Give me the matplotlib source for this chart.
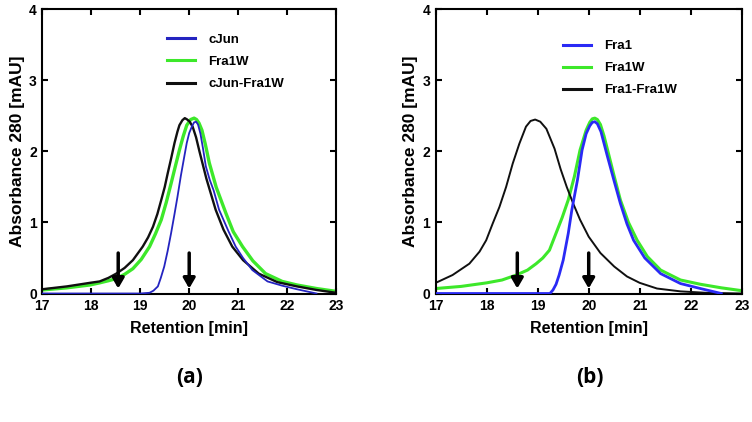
import numpy as np
import matplotlib.pyplot as plt

# ---- panel (a) data ----
cjun_t = [17, 18, 19, 19.19, 19.27, 19.36, 19.42, 19.49, 19.56, 19.63, 19.7, 19.76, 19.83, 19.9,
          19.95, 20.0, 20.06, 20.1, 20.14, 20.18, 20.23, 20.28, 20.34, 20.42, 20.5, 20.61, 20.8,
          20.95, 21.1, 21.29, 21.6, 21.9, 22.2, 22.6]
cjun_v = [0, 0, 0, 0.01, 0.04, 0.1, 0.22, 0.38, 0.6, 0.85, 1.12, 1.36, 1.66, 1.93,
          2.12, 2.26, 2.36, 2.41, 2.42, 2.38, 2.25, 2.05, 1.79, 1.6, 1.45, 1.18, 0.88,
          0.66, 0.5, 0.33, 0.17, 0.11, 0.06, 0.0]

fra1w_a_t = [17, 17.5, 17.97, 18.17, 18.35, 18.51, 18.68, 18.85, 19.02, 19.19, 19.31, 19.43,
             19.53, 19.63, 19.72, 19.8, 19.88, 19.95, 20.03, 20.1, 20.15, 20.2, 20.26, 20.33,
             20.41, 20.55, 20.75, 20.9, 21.09, 21.3, 21.56, 21.9, 22.2, 22.6, 23]
fra1w_a_v = [0.05, 0.08, 0.12, 0.15, 0.18, 0.21, 0.27, 0.35, 0.48, 0.66, 0.84, 1.04,
             1.28, 1.55, 1.8, 2.02, 2.22, 2.37, 2.45, 2.47, 2.45, 2.4, 2.3, 2.1,
             1.84, 1.5, 1.13, 0.87, 0.66, 0.46, 0.28, 0.17, 0.12, 0.07, 0.03]

mix_a_t = [17, 17.5, 17.97, 18.17, 18.35, 18.51, 18.68, 18.85, 19.05, 19.16, 19.26, 19.35,
           19.43, 19.5, 19.56, 19.63, 19.7, 19.76, 19.8, 19.86, 19.91, 19.96, 20.01, 20.07,
           20.14, 20.21, 20.35, 20.54, 20.7, 20.88, 21.1, 21.42, 21.8, 22.2, 22.6, 23]
mix_a_v = [0.06, 0.1, 0.15, 0.17, 0.22, 0.28, 0.36, 0.47, 0.66, 0.79, 0.94, 1.12,
           1.32, 1.5, 1.69, 1.9, 2.12, 2.28, 2.37, 2.44, 2.47, 2.45, 2.42, 2.35,
           2.2, 2.0, 1.62, 1.18, 0.9, 0.66, 0.47, 0.28, 0.16, 0.1, 0.05, 0.01]

# ---- panel (b) data ----
fra1_t = [17, 19.24, 19.3, 19.36, 19.42, 19.5, 19.6, 19.67, 19.78, 19.87, 19.95, 20.02, 20.07,
          20.12, 20.17, 20.24, 20.36, 20.5, 20.62, 20.75, 20.88, 21.1, 21.41, 21.8, 22.19, 22.6]
fra1_v = [0, 0, 0.05, 0.13, 0.26, 0.47, 0.85, 1.18, 1.6, 2.02, 2.25, 2.36, 2.41,
          2.42, 2.39, 2.28, 1.95, 1.58, 1.27, 0.98, 0.75, 0.5, 0.28, 0.14, 0.07, 0.0]

fra1w_b_t = [17, 17.5, 18.0, 18.3, 18.58, 18.8, 18.97, 19.1, 19.23, 19.36, 19.48, 19.6, 19.72, 19.83,
             19.95, 20.02, 20.07, 20.12, 20.17, 20.23, 20.3, 20.36, 20.5, 20.62, 20.78, 20.95,
             21.15, 21.41, 21.8, 22.19, 22.6, 23]
fra1w_b_v = [0.07, 0.1, 0.15, 0.19, 0.26, 0.33, 0.42, 0.5, 0.61, 0.85, 1.07, 1.32, 1.65, 2.02,
             2.3, 2.41, 2.46, 2.47, 2.45, 2.38, 2.22, 2.05, 1.65, 1.32, 1.0, 0.75,
             0.52, 0.33, 0.19, 0.13, 0.08, 0.04]

mix_b_t = [17, 17.33, 17.66, 17.86, 17.99, 18.12, 18.25, 18.38, 18.51, 18.64, 18.77, 18.86,
           18.95, 19.05, 19.17, 19.33, 19.45, 19.57, 19.7, 19.83, 20.0, 20.23, 20.5,
           20.75, 21.0, 21.34, 21.8, 22.3, 23]
mix_b_v = [0.15, 0.26, 0.42, 0.59, 0.75, 0.99, 1.22, 1.5, 1.83, 2.11, 2.35, 2.43,
           2.45, 2.42, 2.32, 2.04, 1.75, 1.5, 1.26, 1.04, 0.8, 0.57, 0.38,
           0.24, 0.15, 0.07, 0.03, 0.01, 0.0]

arrows_a = [18.55, 20.0]
arrows_b = [18.6, 20.0]
arrow_top, arrow_bot = 0.57, 0.07

plt.rcParams['font.family'] = ['Liberation Sans', 'DejaVu Sans']
plt.rcParams['font.weight'] = 'bold'

fig = plt.figure(figsize=(7.52, 4.22), dpi=100)
ax_a = fig.add_axes([0.0563, 0.3045, 0.3906, 0.673])
ax_b = fig.add_axes([0.5794, 0.3045, 0.4069, 0.673])

blue_a = '#2424c0'
blue_b = '#2a2af5'
green = '#3de82a'
black = '#101010'

ax_a.plot(cjun_t, cjun_v, color=blue_a, lw=1.3, label='cJun', zorder=3)
ax_a.plot(fra1w_a_t, fra1w_a_v, color=green, lw=2.4, label='Fra1W', zorder=2)
ax_a.plot(mix_a_t, mix_a_v, color=black, lw=1.7, label='cJun-Fra1W', zorder=2)

ax_b.plot(fra1_t, fra1_v, color=blue_b, lw=2.0, label='Fra1', zorder=3)
ax_b.plot(fra1w_b_t, fra1w_b_v, color=green, lw=2.2, label='Fra1W', zorder=2)
ax_b.plot(mix_b_t, mix_b_v, color=black, lw=1.4, label='Fra1-Fra1W', zorder=2)

for ax, arrs, leg_xy in [(ax_a, arrows_a, (0.425, 0.915)), (ax_b, arrows_b, (0.416, 0.893))]:
    for t in arrs:
        ax.annotate('', xy=(t, arrow_bot), xytext=(t, arrow_top),
                    arrowprops=dict(arrowstyle='-|>,head_length=0.6,head_width=0.35',
                                    lw=2.5, color='black', shrinkA=0, shrinkB=0),
                    zorder=5)
    ax.set_xlim(17, 23)
    ax.set_ylim(0, 4)
    ax.set_xticks(range(17, 24))
    ax.set_yticks(range(0, 5))
    ax.tick_params(direction='in', top=True, right=True, length=4, width=1.5,
                   labelsize=10, pad=4)
    for lab in ax.get_xticklabels() + ax.get_yticklabels():
        lab.set_fontweight('bold')
    for sp in ax.spines.values():
        sp.set_linewidth(1.5)
    ax.set_xlabel('Retention [min]', fontsize=11.5, fontweight='bold', labelpad=6)
    ax.set_ylabel('Absorbance 280 [mAU]', fontsize=12.5, fontweight='bold', labelpad=3)
    leg = ax.legend(loc='upper left', bbox_to_anchor=leg_xy, frameon=False,
                    borderpad=0, borderaxespad=0, handlelength=2.1, handletextpad=1.0,
                    labelspacing=0.75, prop={'weight': 'bold', 'size': 9.5})
    for h in leg.get_lines():
        h.set_linewidth(2.2)

fig.text(0.2527, 0.092, '(a)', fontsize=15, fontweight='bold', family='Open Sans', ha='center')
fig.text(0.785, 0.092, '(b)', fontsize=15, fontweight='bold', family='Open Sans', ha='center')

fig.savefig('out.png', dpi=100)
